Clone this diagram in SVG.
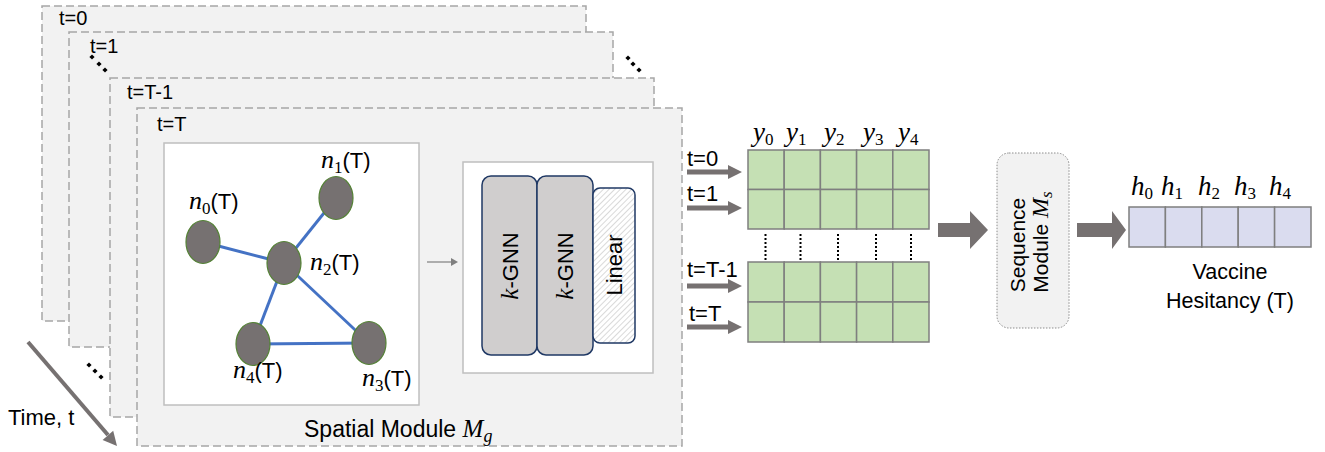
<svg xmlns="http://www.w3.org/2000/svg" width="1325" height="452" viewBox="0 0 1325 452">
<style>
.frame{fill:#f2f2f2;stroke:#a6a6a6;stroke-width:1.5;stroke-dasharray:8 4}
.sans{font-family:"Liberation Sans",Arial,sans-serif;fill:#000}
.mi{font-family:"Liberation Serif","DejaVu Serif",serif;font-style:italic}
.sub{font-family:"Liberation Serif","DejaVu Serif",serif;font-size:17px}
.node{fill:#767171;stroke:#548235;stroke-width:1.2}
.edge{stroke:#4472c4;stroke-width:3;fill:none}
.box{fill:#fff;stroke:#bfbfbf;stroke-width:1.5}
.gnn{fill:#d0cece;stroke:#1f3864;stroke-width:1.5}
.cellg{fill:#c5e0b4;stroke:#7f7f7f;stroke-width:1.5}
.cellb{fill:#dadcef;stroke:#7f7f7f;stroke-width:1.5}
.arr{fill:#767171}
.dots{stroke:#000;stroke-width:2;stroke-dasharray:2 2}
</style>
<defs>
<pattern id="hatch" width="4" height="4" patternUnits="userSpaceOnUse" patternTransform="rotate(45)">
<rect width="4" height="4" fill="#ffffff"/>
<line x1="0" y1="0" x2="0" y2="4" stroke="#d0d0d0" stroke-width="1.6"/>
</pattern>
<path id="dm" d="M0,-2.6 L2.6,0 L0,2.6 L-2.6,0Z" fill="#000"/>
</defs>

<g id="frames">
<rect id="frame-t0" class="frame" x="42" y="6" width="544" height="315"/>
<text class="sans" x="59" y="25" font-size="20">t=0</text>
<rect id="frame-t1" class="frame" x="69" y="32" width="544" height="315"/>
<text class="sans" x="90" y="53" font-size="20">t=1</text>
<rect id="frame-tT1" class="frame" x="110" y="78" width="544" height="339"/>
<text class="sans" x="127" y="99" font-size="20">t=T-1</text>
<rect id="frame-tT" class="frame" x="137" y="108" width="545" height="338"/>
<text class="sans" x="157" y="131" font-size="20">t=T</text>
<use href="#dm" x="92" y="57"/><use href="#dm" x="99" y="64"/><use href="#dm" x="105" y="70"/>
<use href="#dm" x="628" y="58"/><use href="#dm" x="633" y="64"/><use href="#dm" x="639" y="70"/>
<use href="#dm" x="89" y="365"/><use href="#dm" x="95" y="371"/><use href="#dm" x="101" y="377"/>
</g>

<g id="time-axis">
<line x1="28" y1="342" x2="108" y2="435" stroke="#767171" stroke-width="4"/>
<polygon class="arr" points="117,446 113.2,430.8 102.6,440"/>
<text class="sans" x="8" y="425" font-size="22">Time, t</text>
</g>

<g id="graph-box">
<rect class="box" x="164" y="143" width="255" height="262"/>
</g>

<g id="connectors">
<line class="edge" x1="203" y1="242" x2="284" y2="263"/>
<line class="edge" x1="336" y1="198" x2="284" y2="263"/>
<line class="edge" x1="284" y1="263" x2="253" y2="344"/>
<line class="edge" x1="284" y1="263" x2="369" y2="343"/>
<line class="edge" x1="253" y1="344" x2="369" y2="343"/>
<line x1="427" y1="262" x2="452" y2="262" stroke="#7f7f7f" stroke-width="1.2"/>
<polygon points="458,262 451,258 451,266" fill="#7f7f7f"/>
<polygon class="arr" points="687,169.5 728,169.5 728,165 742,172 728,179 728,174.5 687,174.5"/>
<polygon class="arr" points="687,205.5 728,205.5 728,201 742,208 728,215 728,210.5 687,210.5"/>
<polygon class="arr" points="687,283.5 728,283.5 728,279 742,286 728,293 728,288.5 687,288.5"/>
<polygon class="arr" points="687,324.5 728,324.5 728,320 742,327 728,334 728,329.5 687,329.5"/>
<polygon class="arr" points="938,223 970,223 970,211 988,230 970,249 970,237 938,237"/>
<polygon class="arr" points="1077,223 1112,223 1112,211 1126,230 1112,249 1112,237 1077,237"/>
</g>

<g id="n0"><ellipse class="node" cx="203" cy="242" rx="17" ry="21.5"/>
<text x="189" y="209" font-size="26"><tspan class="mi">n</tspan><tspan class="sub" dy="5">0</tspan><tspan class="sans" dy="-5" font-size="22">(T)</tspan></text></g>
<g id="n1"><ellipse class="node" cx="336" cy="198" rx="17" ry="21.5"/>
<text x="321" y="168" font-size="26"><tspan class="mi">n</tspan><tspan class="sub" dy="5">1</tspan><tspan class="sans" dy="-5" font-size="22">(T)</tspan></text></g>
<g id="n2"><ellipse class="node" cx="284" cy="263" rx="17" ry="21.5"/>
<text x="310" y="270" font-size="26"><tspan class="mi">n</tspan><tspan class="sub" dy="5">2</tspan><tspan class="sans" dy="-5" font-size="22">(T)</tspan></text></g>
<g id="n3"><ellipse class="node" cx="369" cy="343" rx="17" ry="21.5"/>
<text x="362" y="386" font-size="26"><tspan class="mi">n</tspan><tspan class="sub" dy="5">3</tspan><tspan class="sans" dy="-5" font-size="22">(T)</tspan></text></g>
<g id="n4"><ellipse class="node" cx="253" cy="344" rx="17" ry="21.5"/>
<text x="233" y="378" font-size="26"><tspan class="mi">n</tspan><tspan class="sub" dy="5">4</tspan><tspan class="sans" dy="-5" font-size="22">(T)</tspan></text></g>

<g id="gnn-module">
<rect class="box" x="463" y="162" width="190" height="211"/>
<rect class="gnn" x="482" y="176" width="55" height="179" rx="9"/>
<rect class="gnn" x="537" y="176" width="56" height="179" rx="9"/>
<rect x="593" y="188" width="42" height="155" rx="7" fill="url(#hatch)" stroke="#1f3864" stroke-width="1.5"/>
<text transform="translate(518,266) rotate(-90)" text-anchor="middle" font-size="22"><tspan class="mi" font-size="25">k</tspan><tspan class="sans">-GNN</tspan></text>
<text transform="translate(573,266) rotate(-90)" text-anchor="middle" font-size="22"><tspan class="mi" font-size="25">k</tspan><tspan class="sans">-GNN</tspan></text>
<text class="sans" transform="translate(622,265) rotate(-90)" text-anchor="middle" font-size="22">Linear</text>
</g>

<text id="spatial-label" x="304" y="437" font-size="23"><tspan class="sans">Spatial Module </tspan><tspan class="mi" font-size="25">M</tspan><tspan class="mi" font-size="18" dy="5">g</tspan></text>

<g id="row-labels">
<text class="sans" x="687" y="166" font-size="22">t=0</text>
<text class="sans" x="687" y="201" font-size="22">t=1</text>
<text class="sans" x="687" y="277" font-size="22">t=T-1</text>
<text class="sans" x="689" y="321" font-size="22">t=T</text>
</g>

<g id="y-matrix">
<rect class="cellg" x="748" y="150" width="36.2" height="39.5"/><rect class="cellg" x="784.2" y="150" width="36.2" height="39.5"/><rect class="cellg" x="820.4" y="150" width="36.2" height="39.5"/><rect class="cellg" x="856.6" y="150" width="36.2" height="39.5"/><rect class="cellg" x="892.8" y="150" width="36.2" height="39.5"/>
<rect class="cellg" x="748" y="189.5" width="36.2" height="39.5"/><rect class="cellg" x="784.2" y="189.5" width="36.2" height="39.5"/><rect class="cellg" x="820.4" y="189.5" width="36.2" height="39.5"/><rect class="cellg" x="856.6" y="189.5" width="36.2" height="39.5"/><rect class="cellg" x="892.8" y="189.5" width="36.2" height="39.5"/>
<rect class="cellg" x="748" y="262" width="36.2" height="40"/><rect class="cellg" x="784.2" y="262" width="36.2" height="40"/><rect class="cellg" x="820.4" y="262" width="36.2" height="40"/><rect class="cellg" x="856.6" y="262" width="36.2" height="40"/><rect class="cellg" x="892.8" y="262" width="36.2" height="40"/>
<rect class="cellg" x="748" y="302" width="36.2" height="40"/><rect class="cellg" x="784.2" y="302" width="36.2" height="40"/><rect class="cellg" x="820.4" y="302" width="36.2" height="40"/><rect class="cellg" x="856.6" y="302" width="36.2" height="40"/><rect class="cellg" x="892.8" y="302" width="36.2" height="40"/>
<line class="dots" x1="765.5" y1="234" x2="765.5" y2="260"/><line class="dots" x1="800.5" y1="234" x2="800.5" y2="260"/><line class="dots" x1="838" y1="234" x2="838" y2="260"/><line class="dots" x1="876" y1="234" x2="876" y2="260"/><line class="dots" x1="911" y1="234" x2="911" y2="260"/>
<text x="753" y="141" font-size="27"><tspan class="mi">y</tspan><tspan class="sub" font-size="18" dy="4">0</tspan></text>
<text x="786" y="141" font-size="27"><tspan class="mi">y</tspan><tspan class="sub" font-size="18" dy="4">1</tspan></text>
<text x="824" y="141" font-size="27"><tspan class="mi">y</tspan><tspan class="sub" font-size="18" dy="4">2</tspan></text>
<text x="863" y="141" font-size="27"><tspan class="mi">y</tspan><tspan class="sub" font-size="18" dy="4">3</tspan></text>
<text x="898" y="141" font-size="27"><tspan class="mi">y</tspan><tspan class="sub" font-size="18" dy="4">4</tspan></text>
</g>

<g id="sequence-module">
<rect x="997" y="153" width="72" height="175" rx="12" fill="#f2f2f2" stroke="#8c8c8c" stroke-width="1" stroke-dasharray="1.5 1.5"/>
<text class="sans" transform="translate(1025,245) rotate(-90)" text-anchor="middle" font-size="21">Sequence</text>
<text transform="translate(1048,242) rotate(-90)" text-anchor="middle" font-size="21"><tspan class="sans">Module </tspan><tspan class="mi" font-size="24">M</tspan><tspan class="mi" font-size="17" dy="4">s</tspan></text>
</g>

<g id="h-vector">
<rect class="cellb" x="1129" y="207" width="36.4" height="40"/><rect class="cellb" x="1165.4" y="207" width="36.4" height="40"/><rect class="cellb" x="1201.8" y="207" width="36.4" height="40"/><rect class="cellb" x="1238.2" y="207" width="36.4" height="40"/><rect class="cellb" x="1274.6" y="207" width="36.4" height="40"/>
<text x="1131" y="195" font-size="27"><tspan class="mi">h</tspan><tspan class="sub" font-size="18" dy="4">0</tspan></text>
<text x="1161" y="195" font-size="27"><tspan class="mi">h</tspan><tspan class="sub" font-size="18" dy="4">1</tspan></text>
<text x="1198" y="195" font-size="27"><tspan class="mi">h</tspan><tspan class="sub" font-size="18" dy="4">2</tspan></text>
<text x="1234" y="195" font-size="27"><tspan class="mi">h</tspan><tspan class="sub" font-size="18" dy="4">3</tspan></text>
<text x="1269" y="195" font-size="27"><tspan class="mi">h</tspan><tspan class="sub" font-size="18" dy="4">4</tspan></text>
<text class="sans" x="1230" y="279" text-anchor="middle" font-size="21.5">Vaccine</text>
<text class="sans" x="1230" y="308" text-anchor="middle" font-size="21.5">Hesitancy (T)</text>
</g>
</svg>
